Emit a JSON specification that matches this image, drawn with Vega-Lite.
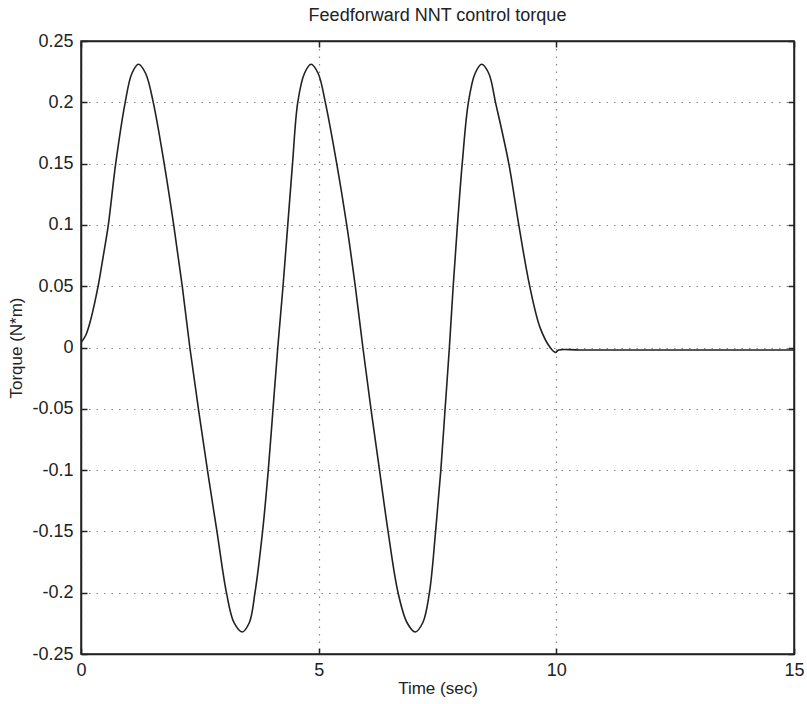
{
  "$schema": "https://vega.github.io/schema/vega-lite/v6.json",
  "autosize": {"type": "none"},
  "padding": {"left": 81, "top": 41, "right": 13, "bottom": 50},
  "width": 713,
  "height": 613,
  "background": "white",
  "title": {"text": "Feedforward NNT control torque", "font": "Liberation Sans", "fontSize": 18, "fontWeight": "normal", "color": "#222", "offset": 7},
  "config": {
    "view": {"stroke": "#222", "strokeWidth": 1.5},
    "axis": {
      "labelFont": "Liberation Sans", "labelFontSize": 18, "labelColor": "#222",
      "titleFont": "Liberation Sans", "titleFontSize": 17, "titleFontWeight": "normal", "titleColor": "#222",
      "domainColor": "#222", "domainWidth": 1.5, "tickColor": "#222", "tickWidth": 1.5, "tickSize": -6,
      "gridColor": "#888", "gridDash": [1.5, 6], "gridWidth": 1.2, "gridOpacity": 1
    }
  },
  "data": {"values": [
    {"t": 0, "v": 0.004}, {"t": 0.1, "v": 0.01}, {"t": 0.2, "v": 0.022}, {"t": 0.36, "v": 0.05},
    {"t": 0.47, "v": 0.075}, {"t": 0.575, "v": 0.1}, {"t": 0.73, "v": 0.15}, {"t": 0.93, "v": 0.2},
    {"t": 1.07, "v": 0.2235}, {"t": 1.21, "v": 0.231}, {"t": 1.36, "v": 0.2235}, {"t": 1.52, "v": 0.2},
    {"t": 1.75, "v": 0.15}, {"t": 1.95, "v": 0.1}, {"t": 2.13, "v": 0.05}, {"t": 2.29, "v": 0},
    {"t": 2.47, "v": -0.05}, {"t": 2.66, "v": -0.1}, {"t": 2.86, "v": -0.15}, {"t": 3.06, "v": -0.2},
    {"t": 3.22, "v": -0.2245}, {"t": 3.39, "v": -0.232}, {"t": 3.54, "v": -0.2245}, {"t": 3.66, "v": -0.2},
    {"t": 3.82, "v": -0.15}, {"t": 3.94, "v": -0.1}, {"t": 4.04, "v": -0.05}, {"t": 4.14, "v": 0},
    {"t": 4.25, "v": 0.05}, {"t": 4.35, "v": 0.1}, {"t": 4.45, "v": 0.15}, {"t": 4.56, "v": 0.2},
    {"t": 4.70, "v": 0.2235}, {"t": 4.84, "v": 0.231}, {"t": 4.99, "v": 0.2235}, {"t": 5.14, "v": 0.2},
    {"t": 5.38, "v": 0.15}, {"t": 5.59, "v": 0.1}, {"t": 5.77, "v": 0.05}, {"t": 5.93, "v": 0},
    {"t": 6.10, "v": -0.05}, {"t": 6.28, "v": -0.1}, {"t": 6.46, "v": -0.15}, {"t": 6.67, "v": -0.2},
    {"t": 6.86, "v": -0.2245}, {"t": 7.03, "v": -0.232}, {"t": 7.19, "v": -0.2245}, {"t": 7.33, "v": -0.2},
    {"t": 7.46, "v": -0.15}, {"t": 7.57, "v": -0.1}, {"t": 7.66, "v": -0.05}, {"t": 7.75, "v": 0},
    {"t": 7.83, "v": 0.05}, {"t": 7.92, "v": 0.1}, {"t": 8.02, "v": 0.15}, {"t": 8.15, "v": 0.2},
    {"t": 8.29, "v": 0.2235}, {"t": 8.43, "v": 0.231}, {"t": 8.58, "v": 0.2235}, {"t": 8.72, "v": 0.2},
    {"t": 9.0, "v": 0.15}, {"t": 9.21, "v": 0.1}, {"t": 9.44, "v": 0.05}, {"t": 9.66, "v": 0.016},
    {"t": 9.87, "v": 0.0}, {"t": 9.98, "v": -0.004}, {"t": 10.05, "v": -0.002}, {"t": 10.5, "v": -0.002},
    {"t": 15, "v": -0.002}
  ]},
  "layer": [
    {
      "mark": {"type": "line", "color": "#222", "strokeWidth": 1.6, "interpolate": "catmull-rom", "clip": true},
      "encoding": {
        "x": {"field": "t", "type": "quantitative",
              "scale": {"domain": [0, 15], "nice": false, "zero": false},
              "axis": {"values": [0, 5, 10, 15], "grid": true, "title": "Time (sec)", "labelPadding": 13, "titlePadding": 1, "labelFlush": false}},
        "y": {"field": "v", "type": "quantitative",
              "scale": {"domain": [-0.25, 0.25], "nice": false, "zero": false},
              "axis": {"values": [-0.25, -0.2, -0.15, -0.1, -0.05, 0, 0.05, 0.1, 0.15, 0.2, 0.25], "grid": true, "labelExpr": "'' + datum.value", "title": "Torque (N*m)", "labelPadding": 14, "titlePadding": 6, "labelFlush": false}}
      }
    },
    {
      "mark": {"type": "line", "opacity": 0},
      "encoding": {
        "x": {"field": "t", "type": "quantitative",
              "axis": {"orient": "top", "values": [0, 5, 10, 15], "labels": false, "title": null, "grid": false}},
        "y": {"field": "v", "type": "quantitative",
              "axis": {"orient": "right", "values": [-0.25, -0.2, -0.15, -0.1, -0.05, 0, 0.05, 0.1, 0.15, 0.2, 0.25], "labels": false, "title": null, "grid": false}}
      }
    }
  ],
  "resolve": {"axis": {"x": "independent", "y": "independent"}}
}
